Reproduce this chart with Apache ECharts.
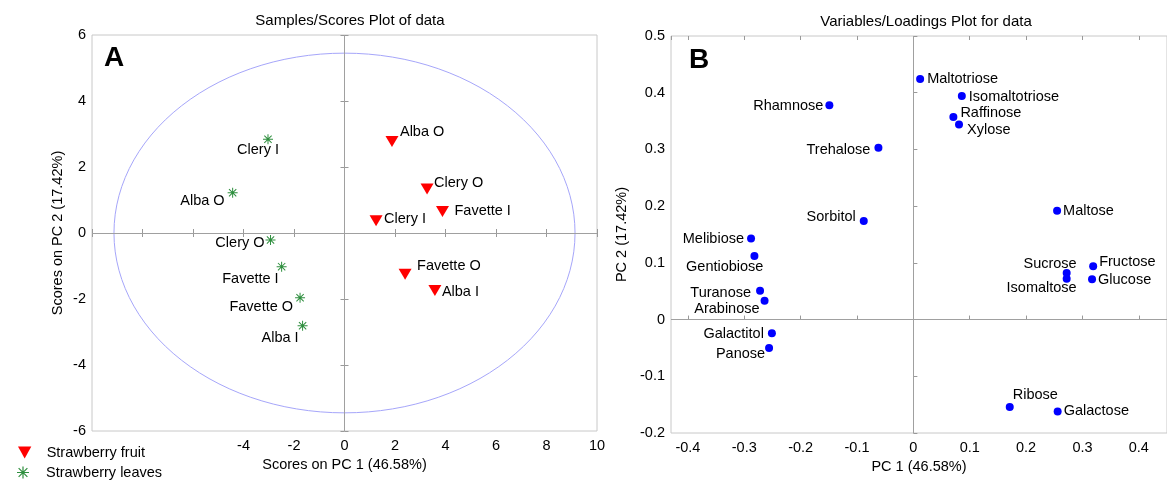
<!DOCTYPE html>
<html>
<head>
<meta charset="utf-8">
<script src="https://cdn.jsdelivr.net/npm/echarts@6/dist/echarts.min.js"></script>
<style>
  html, body { margin: 0; padding: 0; background: #fff; }
  #chart { width: 1167px; height: 481px; }
</style>
</head>
<body>
<div id="chart"></div>
<script>
'use strict'

// ---- panel A : scores ----
const fruitNames = ['Alba O', 'Clery O', 'Favette I', 'Clery I', 'Favette O', 'Alba I'];
const fruitPC1 = [1.88, 3.27, 3.88, 1.25, 2.40, 3.58];
const fruitPC2 = [2.77, 1.33, 0.65, 0.37, -1.25, -1.74];

const leafNames = ['Clery I', 'Alba O', 'Clery O', 'Favette I', 'Favette O', 'Alba I'];
const leafPC1 = [-3.03, -4.43, -2.93, -2.49, -1.76, -1.66];
const leafPC2 = [2.84, 1.22, -0.21, -1.02, -1.96, -2.81];

// 95% confidence ellipse of the scores
const ellipseRadii = [9.13, 5.45];

// ---- panel B : loadings ----
const sugarNames = ['Maltotriose', 'Isomaltotriose', 'Rhamnose', 'Raffinose', 'Xylose', 'Trehalose',
  'Maltose', 'Sorbitol', 'Melibiose', 'Gentiobiose', 'Sucrose', 'Isomaltose', 'Fructose', 'Glucose',
  'Turanose', 'Arabinose', 'Galactitol', 'Panose', 'Ribose', 'Galactose'];
const sugarPC1 = [0.012, 0.086, -0.149, 0.071, 0.081, -0.062, 0.255, -0.088, -0.288, -0.282,
  0.272, 0.272, 0.319, 0.317, -0.272, -0.264, -0.251, -0.256, 0.171, 0.256];
const sugarPC2 = [0.424, 0.394, 0.378, 0.357, 0.344, 0.303, 0.192, 0.174, 0.143, 0.112,
  0.082, 0.072, 0.094, 0.071, 0.051, 0.033, -0.024, -0.050, -0.154, -0.162];

// label placement (align, dx, dy) per point, kept apart from the values
const fruitLabelPos = [['left', 8, -10], ['left', 7, -6], ['left', 12, -1], ['left', 8, -2], ['left', 12, -8], ['left', 7, 2]];
const leafLabelPos = [['right', 11, 11], ['right', -8, 8], ['right', -6, 3], ['right', -3, 12], ['right', -7, 9], ['right', -4, 12]];
const sugarLabelPos = [['left', 7, 0], ['left', 7, 1], ['right', -6, 1], ['left', 7, -4], ['left', 8, 6], ['right', -8, 2],
  ['left', 6, 0], ['right', -8, -4], ['right', -7, 1], ['right', 9, 11], ['right', 10, -9], ['right', 10, 9],
  ['left', 6, -4], ['left', 6, 1], ['right', -9, 2], ['right', -5, 8], ['right', -8, 1], ['right', -4, 6],
  ['left', 3, -12], ['left', 6, 0]];

const FONT = 'Liberation Sans';
const TRI_DOWN = 'path://M0 0L10 0L5 9Z';
const STAR = 'path://M9 0L11 0L11 20L9 20Z M0 9L20 9L20 11L0 11Z M2 3.4L3.4 2L18 16.6L16.6 18Z M16.6 2L18 3.4L3.4 18L2 16.6Z';

function points(names, xs, ys, pos) {
  return names.map((n, i) => ({
    name: n,
    value: [xs[i], ys[i]],
    label: { align: pos[i][0], offset: [pos[i][1], pos[i][2]] }
  }));
}

function ellipse(r) {
  const pts = [];
  for (let a = 0; a <= 360; a += 3) {
    const t = a * Math.PI / 180;
    pts.push([r[0] * Math.cos(t), r[1] * Math.sin(t)]);
  }
  return pts;
}

const pointLabel = {
  show: true, position: 'inside', formatter: '{b}', color: '#000',
  fontFamily: FONT, fontSize: 14.5, verticalAlign: 'middle'
};

const zeroLines = {
  silent: true, symbol: 'none', label: { show: false },
  lineStyle: { color: '#a0a0a0', width: 1, type: 'solid' },
  data: [{ xAxis: 0 }, { yAxis: 0 }]
};

const tickStyle = { show: true, inside: true, length: 4, lineStyle: { color: '#999' } };
const axisText = { color: '#000', fontFamily: FONT, fontSize: 14.5 };
const legendText = { fontFamily: FONT, fontSize: 14.5, color: '#000', padding: [0, 0, 0, 10] };

function tenths(v) {
  return Math.abs(Math.round(v * 10) - v * 10) < 1e-6 ? String(+v.toFixed(1)) : '';
}

const chart = echarts.init(document.getElementById('chart'));
chart.setOption({
  animation: false,
  backgroundColor: '#fff',
  textStyle: { fontFamily: FONT },
  title: [
    { text: 'Samples/Scores Plot of data', left: 345, top: 8, textAlign: 'center',
      textStyle: { fontFamily: FONT, fontSize: 15, fontWeight: 'normal', color: '#000' } },
    { text: 'Variables/Loadings Plot for data', left: 921, top: 9, textAlign: 'center',
      textStyle: { fontFamily: FONT, fontSize: 15, fontWeight: 'normal', color: '#000' } }
  ],
  legend: [
    { left: 13, top: 440, itemWidth: 14, itemHeight: 12, textStyle: legendText,
      data: [{ name: 'Strawberry fruit', icon: TRI_DOWN }] },
    { left: 12, top: 460, itemWidth: 12, itemHeight: 12, textStyle: Object.assign({}, legendText, { padding: [0, 0, 0, 12] }),
      data: [{ name: 'Strawberry leaves', icon: STAR }] }
  ],
  graphic: [
    { type: 'text', left: 104, top: 44, style: { text: 'A', font: 'bold 28px "Liberation Sans"', fill: '#000' } },
    { type: 'text', left: 689, top: 46, style: { text: 'B', font: 'bold 28px "Liberation Sans"', fill: '#000' } }
  ],
  grid: [
    { left: 92, top: 35, width: 505, height: 396, show: true, borderColor: '#c8c8c8', borderWidth: 1 },
    { left: 671, top: 36, width: 501, height: 397, show: true, borderColor: '#c8c8c8', borderWidth: 1 }
  ],
  xAxis: [
    { gridIndex: 0, type: 'value', min: -10, max: 10, interval: 2,
      name: 'Scores on PC 1 (46.58%)', nameLocation: 'middle', nameGap: 26, nameTextStyle: axisText,
      axisLine: { show: false }, axisTick: tickStyle, splitLine: { show: false },
      axisLabel: Object.assign({ margin: 7, formatter: v => (v < -4 ? '' : String(v)) }, axisText) },
    { gridIndex: 0, type: 'value', position: 'top', min: -10, max: 10, interval: 2,
      axisLine: { show: false }, axisTick: tickStyle, splitLine: { show: false }, axisLabel: { show: false } },
    { gridIndex: 1, type: 'value', min: -0.43, max: 0.45, splitNumber: 9,
      name: 'PC 1 (46.58%)', nameLocation: 'middle', nameGap: 26, nameTextStyle: axisText,
      axisLine: { show: false }, axisTick: tickStyle, splitLine: { show: false },
      axisLabel: Object.assign({ margin: 7, showMinLabel: false, showMaxLabel: false, formatter: tenths }, axisText) },
    { gridIndex: 1, type: 'value', position: 'top', min: -0.43, max: 0.45, splitNumber: 9,
      axisLine: { show: false }, axisTick: tickStyle, splitLine: { show: false }, axisLabel: { show: false } }
  ],
  yAxis: [
    { gridIndex: 0, type: 'value', min: -6, max: 6, interval: 2,
      name: 'Scores on PC 2 (17.42%)', nameLocation: 'middle', nameGap: 27, nameTextStyle: axisText,
      axisLine: { show: false }, axisTick: tickStyle, splitLine: { show: false },
      axisLabel: Object.assign({ margin: 6 }, axisText) },
    { gridIndex: 0, type: 'value', position: 'right', min: -6, max: 6, interval: 2,
      axisLine: { show: false }, axisTick: tickStyle, splitLine: { show: false }, axisLabel: { show: false } },
    { gridIndex: 1, type: 'value', min: -0.2, max: 0.5, interval: 0.1,
      name: 'PC 2 (17.42%)', nameLocation: 'middle', nameGap: 42, nameTextStyle: axisText,
      axisLine: { show: false }, axisTick: tickStyle, splitLine: { show: false },
      axisLabel: Object.assign({ margin: 6, formatter: tenths }, axisText) }
  ],
  series: [
    { type: 'line', name: 'ellipse', xAxisIndex: 0, yAxisIndex: 0, data: ellipse(ellipseRadii),
      showSymbol: false, silent: true, z: 1,
      lineStyle: { color: '#a6a6fa', width: 1 }, markLine: zeroLines },
    { type: 'scatter', name: 'Strawberry fruit', xAxisIndex: 0, yAxisIndex: 0,
      symbol: TRI_DOWN, symbolSize: [13, 11], itemStyle: { color: '#ff0000', opacity: 1 },
      label: pointLabel, data: points(fruitNames, fruitPC1, fruitPC2, fruitLabelPos) },
    { type: 'scatter', name: 'Strawberry leaves', xAxisIndex: 0, yAxisIndex: 0,
      symbol: STAR, symbolSize: 10, itemStyle: { color: '#2f8f3f', opacity: 1 },
      label: pointLabel, data: points(leafNames, leafPC1, leafPC2, leafLabelPos) },
    { type: 'scatter', name: 'Loadings', xAxisIndex: 2, yAxisIndex: 2,
      symbol: 'circle', symbolSize: 8, itemStyle: { color: '#0000ff', opacity: 1 },
      label: pointLabel, markLine: zeroLines,
      data: points(sugarNames, sugarPC1, sugarPC2, sugarLabelPos) }
  ]
});
</script>
</body>
</html>
